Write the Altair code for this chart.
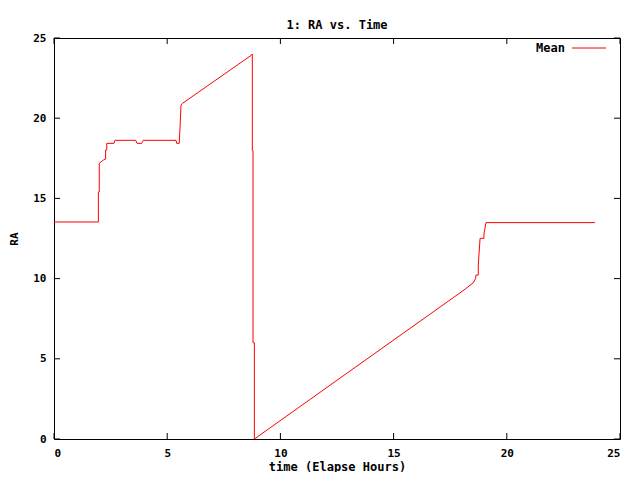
import altair as alt
import pandas as pd

# Data
time_hours = [0, 1.96, 1.96, 2.0, 2.0, 2.18, 2.28, 2.28, 2.33, 2.33, 2.65, 2.69,
              3.61, 3.67, 3.87, 3.94, 5.39, 5.42, 5.53, 5.57, 5.61, 5.68,
              8.73, 8.76, 8.76, 8.79, 8.79, 8.85, 8.85,
              18.11, 18.52, 18.62, 18.64, 18.74, 18.74, 18.82, 18.99, 18.99, 19.08, 23.9]
ra_mean = [13.53, 13.53, 15.4, 15.4, 17.19, 17.39, 17.45, 18.02, 18.02, 18.43, 18.43, 18.62,
           18.62, 18.43, 18.43, 18.62, 18.62, 18.43, 18.43, 19.5, 20.82, 20.93,
           23.94, 24.0, 17.97, 17.97, 6.0, 6.0, 0.0,
           9.29, 9.74, 10.0, 10.22, 10.22, 10.85, 12.51, 12.51, 12.78, 13.49, 13.49]
series_name = "Mean"
x_ticks = [0, 5, 10, 15, 20, 25]
y_ticks = [0, 5, 10, 15, 20, 25]

W, H = 566, 401
FONT = "DejaVu Sans Mono"
TICK = 6

df = pd.DataFrame({"time": time_hours, "ra": ra_mean, "idx": range(len(time_hours))})
xt = pd.DataFrame({"v": x_ticks})
yt = pd.DataFrame({"v": y_ticks})

xscale = alt.Scale(domain=[0, 25], nice=False, zero=False)
yscale = alt.Scale(domain=[0, 25], nice=False, zero=False)

line = alt.Chart(df).mark_line(color="#ff0000", strokeWidth=1, interpolate="linear").encode(
    x=alt.X("time:Q", scale=xscale,
            axis=alt.Axis(title="time (Elapse Hours)", values=x_ticks, format="d",
                          ticks=False, tickSize=0, domain=False, grid=False,
                          labelPadding=8, labelFont=FONT, labelFontSize=11, labelFontWeight="bold",
                          labelColor="black", titleFont=FONT, titleFontSize=12, titleFontWeight="bold",
                          titleColor="black", titleY=27, titleBaseline="middle")),
    y=alt.Y("ra:Q", scale=yscale,
            axis=alt.Axis(title="RA", values=y_ticks, format="d",
                          ticks=False, tickSize=0, domain=False, grid=False,
                          labelPadding=8, labelFont=FONT, labelFontSize=11, labelFontWeight="bold",
                          labelColor="black", titleFont=FONT, titleFontSize=11, titleFontWeight="bold",
                          titleColor="black", titleAngle=270, titleX=-40, titleY=H / 2,
                          titleAlign="center", titleBaseline="middle")),
    order=alt.Order("idx:Q"),
)

tick_style = dict(color="black", strokeWidth=1)
xb = alt.Chart(xt).mark_rule(**tick_style).encode(
    x=alt.X("v:Q", scale=xscale), y=alt.value(H), y2=alt.value(H - TICK))
xtp = alt.Chart(xt).mark_rule(**tick_style).encode(
    x=alt.X("v:Q", scale=xscale), y=alt.value(0), y2=alt.value(TICK))
yl = alt.Chart(yt).mark_rule(**tick_style).encode(
    y=alt.Y("v:Q", scale=yscale), x=alt.value(0), x2=alt.value(TICK))
yr = alt.Chart(yt).mark_rule(**tick_style).encode(
    y=alt.Y("v:Q", scale=yscale), x=alt.value(W), x2=alt.value(W - TICK))

leg_df = pd.DataFrame({"name": [series_name]})
leg_text = alt.Chart(leg_df).mark_text(font=FONT, fontSize=12, fontWeight="bold", align="right",
                                        baseline="middle", color="black").encode(
    text="name:N", x=alt.value(511), y=alt.value(10))
leg_line = alt.Chart(leg_df).mark_rule(color="#ff0000", strokeWidth=1).encode(
    x=alt.value(518), x2=alt.value(552), y=alt.value(10))

chart = alt.layer(line, xb, xtp, yl, yr, leg_text, leg_line).properties(
    width=W, height=H,
    title=alt.Title("1: RA vs. Time", font=FONT, fontSize=12, fontWeight="bold", color="black",
                    anchor="middle", offset=0),
    autosize=alt.AutoSizeParams(type="none"),
    padding={"left": 46, "top": 30, "right": 12, "bottom": 33},
    background="white",
).configure_view(stroke="black", strokeWidth=1)

chart.save("out.html", embed_options={"renderer": "svg", "actions": False})
